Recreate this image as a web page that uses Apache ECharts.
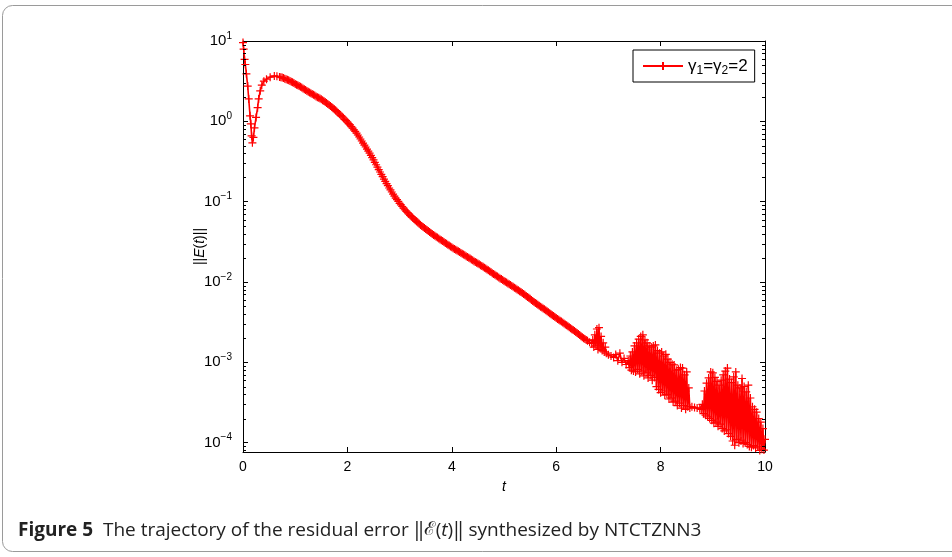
<!DOCTYPE html>
<html><head><meta charset="utf-8">
<script src="https://cdn.jsdelivr.net/npm/echarts@6/dist/echarts.min.js"></script>
<style>html,body{margin:0;padding:0;background:#fff}#c{width:952px;height:557px}</style>
</head><body><div id="c"></div>
<script>
// ---- data ----
const seriesName = 'γ1=γ2=2';
const xTickLabels = [0, 2, 4, 6, 8, 10];
const yMajorTicks = [1e-4, 1e-3, 1e-2, 1e-1, 1, 10];

// initial transient
const tStart = [0, 0.012, 0.03, 0.045, 0.065, 0.09, 0.11, 0.135, 0.15, 0.165, 0.18, 0.2, 0.22, 0.25, 0.28, 0.3, 0.33, 0.36, 0.4, 0.45, 0.52, 0.6, 0.65];
const errStart = [9.55, 7.94, 5.9, 5.1, 3.9, 2.75, 1.9, 1.17, 0.93, 0.66, 0.54, 0.63, 0.83, 1.12, 1.48, 1.9, 2.4, 2.82, 3.16, 3.35, 3.55, 3.67, 3.63];

// smooth decay
const tSmooth = [0.700,0.725,0.750,0.775,0.800,0.825,0.850,0.875,0.900,0.925,0.950,0.975,
1.000,1.025,1.050,1.075,1.100,1.125,1.150,1.175,1.200,1.225,1.250,1.275,1.300,1.325,1.350,1.375,1.400,1.425,1.450,1.475,
1.500,1.525,1.550,1.575,1.600,1.625,1.650,1.675,1.700,1.725,1.750,1.775,1.800,1.825,1.850,1.875,1.900,1.925,1.950,1.975,
2.000,2.025,2.050,2.075,2.100,2.125,2.150,2.175,2.200,2.225,2.250,2.275,2.300,2.325,2.350,2.375,2.400,2.425,2.450,2.475,
2.500,2.525,2.550,2.575,2.600,2.625,2.650,2.675,2.700,2.725,2.750,2.775,2.800,2.825,2.850,2.875,2.900,2.925,2.950,2.975,
3.000,3.025,3.050,3.075,3.100,3.125,3.150,3.175,3.200,3.225,3.250,3.275,3.300,3.325,3.350,3.375,3.400,3.425,3.450,3.475,
3.500,3.525,3.550,3.575,3.600,3.625,3.650,3.675,3.700,3.725,3.750,3.775,3.800,3.825,3.850,3.875,3.900,3.925,3.950,3.975,
4.000,4.025,4.050,4.075,4.100,4.125,4.150,4.175,4.200,4.225,4.250,4.275,4.300,4.325,4.350,4.375,4.400,4.425,4.450,4.475,
4.500,4.525,4.550,4.575,4.600,4.625,4.650,4.675,4.700,4.725,4.750,4.775,4.800,4.825,4.850,4.875,4.900,4.925,4.950,4.975,
5.000,5.025,5.050,5.075,5.100,5.125,5.150,5.175,5.200,5.225,5.250,5.275,5.300,5.325,5.350,5.375,5.400,5.425,5.450,5.475,
5.500,5.525,5.550,5.575,5.600,5.625,5.650,5.675,5.700,5.725,5.750,5.775,5.800,5.825,5.850,5.875,5.900,5.925,5.950,5.975,
6.000,6.025,6.050,6.075,6.100,6.125,6.150,6.175,6.200,6.225,6.250,6.275,6.300,6.325,6.350,6.375,6.400,6.425,6.450,6.475,
6.500,6.525,6.550,6.575];
const errSmooth = [3.57,3.54,3.51,3.46,3.40,3.35,3.30,3.24,3.18,3.12,3.07,3.00,
2.92,2.86,2.81,2.75,2.69,2.63,2.57,2.51,2.45,2.39,2.34,2.29,2.24,2.19,2.14,2.09,2.04,2.00,1.97,1.92,
1.88,1.83,1.79,1.74,1.69,1.64,1.60,1.55,1.51,1.46,1.41,1.36,1.32,1.27,1.23,1.18,1.14,1.10,1.06,1.02,
0.977,0.939,0.902,0.861,0.822,0.785,0.750,0.712,0.676,0.638,0.603,0.569,0.537,0.507,0.479,0.452,0.427,0.401,0.376,0.353,
0.331,0.309,0.288,0.269,0.251,0.234,0.219,0.205,0.191,0.179,0.168,0.158,0.148,0.140,0.132,0.124,0.117,0.111,0.106,0.101,
0.0955,0.0912,0.0871,0.0832,0.0794,0.0763,0.0733,0.0704,0.0676,0.0653,0.0631,0.0610,0.0589,0.0569,0.0550,0.0531,0.0513,0.0498,0.0484,0.0470,
0.0457,0.0444,0.0432,0.0419,0.0407,0.0396,0.0386,0.0376,0.0366,0.0357,0.0348,0.0339,0.0331,0.0323,0.0315,0.0307,0.0299,0.0291,0.0284,0.0277,
0.0270,0.0264,0.0258,0.0252,0.0247,0.0241,0.0236,0.0230,0.0225,0.0220,0.0215,0.0210,0.0205,0.0200,0.0196,0.0191,0.0187,0.0182,0.0178,0.0174,
0.0170,0.0166,0.0162,0.0158,0.0155,0.0151,0.0147,0.0143,0.0140,0.0136,0.0133,0.0129,0.0126,0.0123,0.0120,0.0117,0.0114,0.0111,0.0109,0.0106,
0.0103,0.0101,0.00984,0.00961,0.00938,0.00915,0.00893,0.00872,0.00851,0.00830,0.00809,0.00789,0.00769,0.00749,0.00729,0.00710,0.00692,0.00672,0.00653,0.00635,
0.00617,0.00599,0.00582,0.00566,0.00550,0.00535,0.00521,0.00507,0.00494,0.00481,0.00469,0.00457,0.00445,0.00433,0.00421,0.00409,0.00398,0.00387,0.00377,0.00366,
0.00356,0.00347,0.00339,0.00330,0.00322,0.00313,0.00305,0.00297,0.00290,0.00282,0.00274,0.00266,0.00259,0.00252,0.00245,0.00238,0.00232,0.00225,0.00219,0.00212,
0.00206,0.00200,0.00195,0.00190];

// noisy tail (numerical chatter)
const tNoisy = [6.60,6.64,6.68,6.70,6.72,6.74,6.76,6.78,6.80,6.82,6.84,6.86,6.88,6.90,6.92,6.94,6.96,
7.00,7.05,7.10,7.14,7.18,7.22,7.26,7.30,7.34,7.38,
7.40,7.42,7.44,7.46,7.48,7.50,7.52,7.54,7.56,7.58,7.60,7.62,7.64,7.66,7.68,7.70,7.72,7.74,7.76,7.78,
7.80,7.82,7.84,7.86,7.88,7.90,7.92,7.94,7.96,7.98,8.00,8.02,8.04,8.06,8.08,8.10,8.12,8.14,8.16,8.18,
8.20,8.22,8.24,8.26,8.28,8.30,8.32,8.34,8.36,8.38,8.40,8.42,8.44,8.46,8.48,8.50,8.52,8.54,8.56,
8.60,8.65,8.70,8.75,8.78,
8.80,8.82,8.84,8.86,8.88,8.90,8.92,8.94,8.96,8.98,9.00,9.02,9.04,9.06,9.08,9.10,9.12,9.14,9.16,9.18,
9.20,9.22,9.24,9.26,9.28,9.30,9.32,9.34,9.36,9.38,9.40,9.42,9.44,9.46,9.48,9.50,9.52,9.54,9.56,9.58,
9.60,9.62,9.64,9.66,9.68,9.70,9.72,9.74,9.76,9.78,9.80,9.82,9.84,9.86,9.88,9.90,9.92,9.94,9.96,9.98,10.00];
const errNoisy = [1.86e-3,1.78e-3,1.72e-3,1.9e-3,1.55e-3,2.2e-3,1.6e-3,2.6e-3,1.45e-3,2.7e-3,1.5e-3,2.1e-3,1.4e-3,1.75e-3,1.35e-3,1.55e-3,1.3e-3,
1.24e-3,1.2e-3,1.15e-3,1.25e-3,1.05e-3,1.3e-3,1.0e-3,1.12e-3,9.4e-4,1.05e-3,
8.6e-4,1.2e-3,8.0e-4,1.35e-3,7.8e-4,1.6e-3,7.6e-4,1.75e-3,8.2e-4,1.95e-3,7.2e-4,2.1e-3,7.8e-4,2.2e-3,6.8e-4,1.9e-3,7.4e-4,1.75e-3,6.4e-4,1.6e-3,
6.9e-4,1.55e-3,6.0e-4,1.6e-3,6.5e-4,1.65e-3,5.0e-4,1.4e-3,4.6e-4,1.3e-3,4.2e-4,1.35e-3,4.4e-4,1.2e-3,3.9e-4,1.26e-3,4.0e-4,1.1e-3,3.5e-4,1.0e-3,
3.6e-4,9.5e-4,3.2e-4,9.3e-4,3.3e-4,8.0e-4,2.9e-4,8.2e-4,3.1e-4,8.6e-4,2.7e-4,8.5e-4,2.9e-4,7.0e-4,2.6e-4,7.6e-4,2.8e-4,4.8e-4,2.7e-4,
2.8e-4,2.75e-4,2.7e-4,2.65e-4,2.6e-4,
3.0e-4,2.3e-4,4.4e-4,2.2e-4,5.5e-4,2.1e-4,6.4e-4,2.0e-4,7.6e-4,1.9e-4,7.4e-4,1.75e-4,6.5e-4,1.8e-4,5.8e-4,1.6e-4,5.2e-4,1.7e-4,6.0e-4,1.5e-4,
7.0e-4,1.4e-4,7.8e-4,1.45e-4,8.5e-4,1.3e-4,6.2e-4,1.2e-4,5.6e-4,1.05e-4,6.6e-4,9.3e-5,7.6e-4,1.1e-4,5.2e-4,1.0e-4,4.8e-4,1.05e-4,6.3e-4,9.8e-5,
5.0e-4,1.0e-4,4.3e-4,9.5e-5,5.2e-4,9.0e-5,3.6e-4,8.8e-5,2.8e-4,9.2e-5,2.6e-4,8.6e-5,2.4e-4,8.9e-5,2.0e-4,8.0e-5,1.8e-4,8.3e-5,1.5e-4,8.1e-5,1.1e-4];

// ---- build chart ----
const tAll = tStart.concat(tSmooth, tNoisy);
const errAll = errStart.concat(errSmooth, errNoisy);
const lineData = tAll.map((t, i) => [t, errAll[i]]);

const Y_MIN = 7.66e-5, Y_MAX = 10;
const minorTickVals = [];
for (let e = -5; e <= 0; e++) for (let k = 2; k <= 9; k++) {
  const v = k * Math.pow(10, e);
  if (v >= Y_MIN && v <= Y_MAX) minorTickVals.push([0, v]);
}

const FONT = '"Liberation Sans", Arial, Helvetica, sans-serif';
const CAP = '"Open Sans", "Noto Sans", sans-serif';
const RED = '#ff0000';
const chart = echarts.init(document.getElementById('c'), null, {renderer: 'canvas'});
const plusSymbol = 'path://M0,5L10,5M5,0L5,10';

chart.setOption({
  animation: false,
  color: [RED],
  backgroundColor: '#fff',
  textStyle: {fontFamily: FONT},
  grid: {left: 243, top: 41, width: 522, height: 411, containLabel: false},
  graphic: [
    {type: 'rect', shape: {x: 2.5, y: 5.5, width: 1000, height: 546, r: 10},
     style: {fill: 'none', stroke: '#9a9a9a', lineWidth: 1}, silent: true, z: -10},
    {type: 'text', left: 18, top: 521, silent: true,
     style: {
       text: '{b|Figure 5}  The trajectory of the residual error ‖{s|ℰ}({i|t})‖ synthesized by NTCTZNN3',
       fontFamily: CAP, fontSize: 19, fill: '#222',
       rich: {
         b: {fontWeight: 'bold', fontSize: 19, fontFamily: CAP, fill: '#222'},
         s: {fontStyle: 'italic', fontSize: 19, fontFamily: '"DejaVu Serif", "Noto Sans", serif', fill: '#222'},
         i: {fontStyle: 'italic', fontSize: 19, fontFamily: CAP, fill: '#222'}
       }
     }}
  ],
  legend: {
    data: [seriesName],
    left: 633, top: 50,
    orient: 'vertical',
    backgroundColor: '#fff',
    borderColor: '#000', borderWidth: 1, borderRadius: 0,
    padding: [5, 7, 5, 9],
    itemWidth: 40, itemHeight: 10, itemGap: 4,
    formatter: () => 'γ{s|1}=γ{s|2}=2',
    textStyle: {
      fontFamily: FONT, fontSize: 17, color: '#000', lineHeight: 22,
      rich: {s: {fontFamily: FONT, fontSize: 12, color: '#000', lineHeight: 12, verticalAlign: 'bottom'}}
    }
  },
  xAxis: [
    {
      type: 'value', position: 'bottom', min: 0, max: 10, interval: 2,
      name: 't', nameLocation: 'middle', nameGap: 28,
      nameTextStyle: {fontFamily: FONT, fontSize: 14, fontStyle: 'italic', color: '#000'},
      axisLine: {show: true, onZero: false, lineStyle: {color: '#000', width: 1}},
      axisTick: {show: true, inside: true, length: 5, lineStyle: {color: '#000'}},
      axisLabel: {show: true, margin: 8, fontFamily: FONT, fontSize: 14, color: '#000'},
      splitLine: {show: false}
    },
    {
      type: 'value', position: 'top', min: 0, max: 10, interval: 2,
      axisLine: {show: true, onZero: false, lineStyle: {color: '#000', width: 1}},
      axisTick: {show: true, inside: true, length: 5, lineStyle: {color: '#000'}},
      axisLabel: {show: false},
      splitLine: {show: false}
    }
  ],
  yAxis: [
    {
      type: 'log', logBase: 10, position: 'left', min: Y_MIN, max: Y_MAX,
      name: '||{i|E}({i|t})||', nameLocation: 'middle', nameGap: 36, nameRotate: 90,
      nameMoveOverlap: false,
      nameTextStyle: {fontFamily: FONT, fontSize: 14, color: '#000',
        rich: {i: {fontFamily: FONT, fontSize: 14, fontStyle: 'italic', color: '#000'}}},
      axisLine: {show: true, onZero: false, lineStyle: {color: '#000', width: 1}},
      axisTick: {show: true, inside: true, length: 5, lineStyle: {color: '#000'}},
      axisLabel: {
        show: true, margin: 11, showMinLabel: false,
        formatter: (v) => {
          const e = Math.log10(v);
          const r = Math.round(e);
          if (Math.abs(e - r) > 1e-6) return '';
          return '{b|10}{e|' + (r < 0 ? '−' + (-r) : r) + '}';
        },
        rich: {
          b: {fontFamily: FONT, fontSize: 15, color: '#000', lineHeight: 20},
          e: {fontFamily: FONT, fontSize: 10, color: '#000', lineHeight: 10, verticalAlign: 'top'}
        }
      },
      splitLine: {show: false}
    },
    {
      type: 'log', logBase: 10, position: 'right', min: Y_MIN, max: Y_MAX,
      axisLine: {show: true, onZero: false, lineStyle: {color: '#000', width: 1}},
      axisTick: {show: true, inside: true, length: 5, lineStyle: {color: '#000'}},
      axisLabel: {show: false},
      splitLine: {show: false}
    }
  ],
  series: [
    {
      name: seriesName, type: 'line', xAxisIndex: 0, yAxisIndex: 0,
      data: lineData, color: RED,
      symbol: plusSymbol, symbolSize: 8, showSymbol: true, showAllSymbol: true,
      lineStyle: {color: RED, width: 1.6, opacity: 1},
      itemStyle: {color: RED, borderColor: RED, borderWidth: 1.2, opacity: 1},
      emphasis: {disabled: true},
      z: 3
    },
    {
      name: 'minorTicks', type: 'custom', xAxisIndex: 0, yAxisIndex: 0,
      data: minorTickVals, silent: true, z: 5,
      renderItem: (params, api) => {
        const p = api.coord([0, api.value(1)]);
        const cs = params.coordSys;
        const y = Math.round(p[1]) + 0.5;
        const xl = Math.round(cs.x), xr = Math.round(cs.x + cs.width);
        return {type: 'group', children: [
          {type: 'line', shape: {x1: xl, y1: y, x2: xl + 3, y2: y}, style: {stroke: '#000', lineWidth: 1}},
          {type: 'line', shape: {x1: xr - 3, y1: y, x2: xr, y2: y}, style: {stroke: '#000', lineWidth: 1}}
        ]};
      }
    }
  ]
});
</script>
</body></html>
